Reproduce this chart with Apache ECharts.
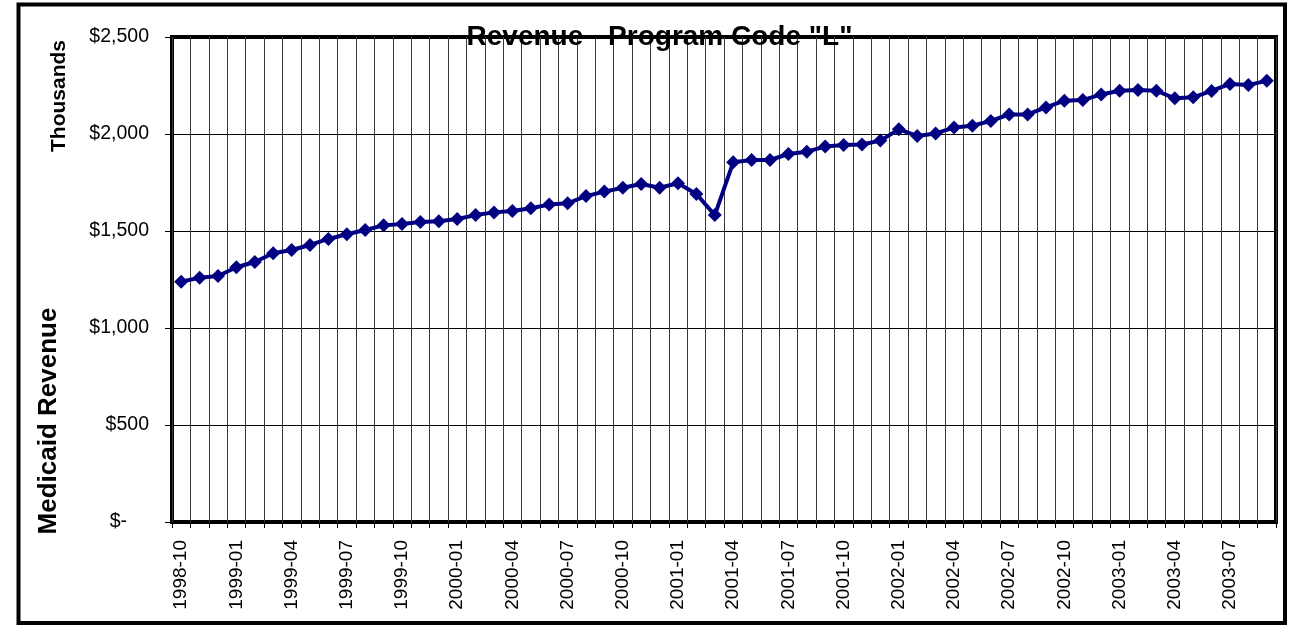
<!DOCTYPE html>
<html>
<head>
<meta charset="utf-8">
<title>Revenue - Program Code "L"</title>
<script src="https://cdn.jsdelivr.net/npm/echarts@6/dist/echarts.min.js"></script>
<style>
  html, body { margin: 0; padding: 0; background: #fff; }
  #chart { width: 1290px; height: 626px; }
</style>
</head>
<body>
<div id="chart"></div>
<script>
// months shown on the category axis (monthly, Oct 1998 - Sep 2003)
const months = [
  '1998-10', '1998-11', '1998-12',
  '1999-01', '1999-02', '1999-03', '1999-04', '1999-05', '1999-06',
  '1999-07', '1999-08', '1999-09', '1999-10', '1999-11', '1999-12',
  '2000-01', '2000-02', '2000-03', '2000-04', '2000-05', '2000-06',
  '2000-07', '2000-08', '2000-09', '2000-10', '2000-11', '2000-12',
  '2001-01', '2001-02', '2001-03', '2001-04', '2001-05', '2001-06',
  '2001-07', '2001-08', '2001-09', '2001-10', '2001-11', '2001-12',
  '2002-01', '2002-02', '2002-03', '2002-04', '2002-05', '2002-06',
  '2002-07', '2002-08', '2002-09', '2002-10', '2002-11', '2002-12',
  '2003-01', '2003-02', '2003-03', '2003-04', '2003-05', '2003-06',
  '2003-07', '2003-08', '2003-09'
];

// Medicaid revenue, thousands of dollars
const revenue = [
  1239, 1259, 1268,
  1313, 1340, 1385, 1402, 1428, 1459,
  1483, 1505, 1529, 1536, 1546, 1550,
  1562, 1582, 1596, 1603, 1617, 1636,
  1643, 1680, 1703, 1723, 1742, 1723,
  1746, 1691, 1582, 1854, 1866, 1866,
  1897, 1909, 1935, 1943, 1946, 1966,
  2024, 1990, 2003, 2033, 2043, 2067,
  2101, 2101, 2137, 2172, 2175, 2204,
  2223, 2227, 2223, 2184, 2189, 2222,
  2258, 2253, 2274
];

const yTicks = { min: 0, max: 2500, step: 500 };

const sans = "'Liberation Sans', Arial, sans-serif";

function money(v) {
  if (v === 0) return '{dash|$-}';
  return '$' + v.toLocaleString('en-US');
}

const chart = echarts.init(document.getElementById('chart'));

const option = {
  animation: false,
  backgroundColor: '#fff',
  grid: {
    left: 172, right: 14, top: 37, bottom: 104,
    show: true,
    borderColor: '#000',
    borderWidth: 4,
    backgroundColor: 'transparent'
  },
  xAxis: {
    type: 'category',
    data: months,
    boundaryGap: true,
    axisLine: { show: false },
    axisTick: {
      show: true, interval: 0, length: 6, inside: false,
      lineStyle: { color: '#000', width: 1 }
    },
    splitLine: {
      show: true, interval: 0,
      lineStyle: { color: '#3a3a3a', width: 1 }
    },
    axisLabel: {
      interval: 2,
      rotate: 90,
      margin: 18,
      color: '#000',
      fontFamily: sans,
      fontSize: 19
    }
  },
  yAxis: {
    type: 'value',
    min: yTicks.min,
    max: yTicks.max,
    interval: yTicks.step,
    axisLine: { show: false },
    axisTick: {
      show: true, length: 7, inside: false,
      lineStyle: { color: '#000', width: 1 }
    },
    splitLine: { show: true, lineStyle: { color: '#000', width: 1 } },
    axisLabel: {
      margin: 23,
      color: '#000',
      fontFamily: sans,
      fontSize: 19.5,
      formatter: money,
      rich: {
        dash: { fontFamily: sans, fontSize: 19.5, color: '#000', padding: [0, 22, 0, 0] }
      }
    }
  },
  series: [{
    name: 'Medicaid Revenue',
    type: 'line',
    data: revenue,
    symbol: 'diamond',
    symbolSize: 14,
    showSymbol: true,
    showAllSymbol: true,
    lineStyle: { color: '#000080', width: 4 },
    itemStyle: { color: '#000080' },
    z: 5
  }],
  graphic: [
    {
      type: 'rect',
      z: 100,
      shape: { x: 18.5, y: 4.5, width: 1266.5, height: 618.5 },
      style: { fill: 'none', stroke: '#000', lineWidth: 4 }
    },
    {
      type: 'text',
      z: 101,
      x: 659.5, y: 37,
      style: {
        text: 'Revenue - Program Code "L"',
        font: 'bold 28px ' + sans,
        fill: '#000',
        textAlign: 'center',
        textVerticalAlign: 'middle'
      }
    },
    {
      type: 'text',
      z: 101,
      x: 59, y: 96,
      rotation: Math.PI / 2,
      style: {
        text: 'Thousands',
        font: 'bold 21px ' + sans,
        fill: '#000',
        textAlign: 'center',
        textVerticalAlign: 'middle'
      }
    },
    {
      type: 'text',
      z: 101,
      x: 49, y: 421,
      rotation: Math.PI / 2,
      style: {
        text: 'Medicaid Revenue',
        font: 'bold 26px ' + sans,
        fill: '#000',
        textAlign: 'center',
        textVerticalAlign: 'middle'
      }
    }
  ]
};

chart.setOption(option);
window.addEventListener('resize', () => chart.resize());
</script>
</body>
</html>
